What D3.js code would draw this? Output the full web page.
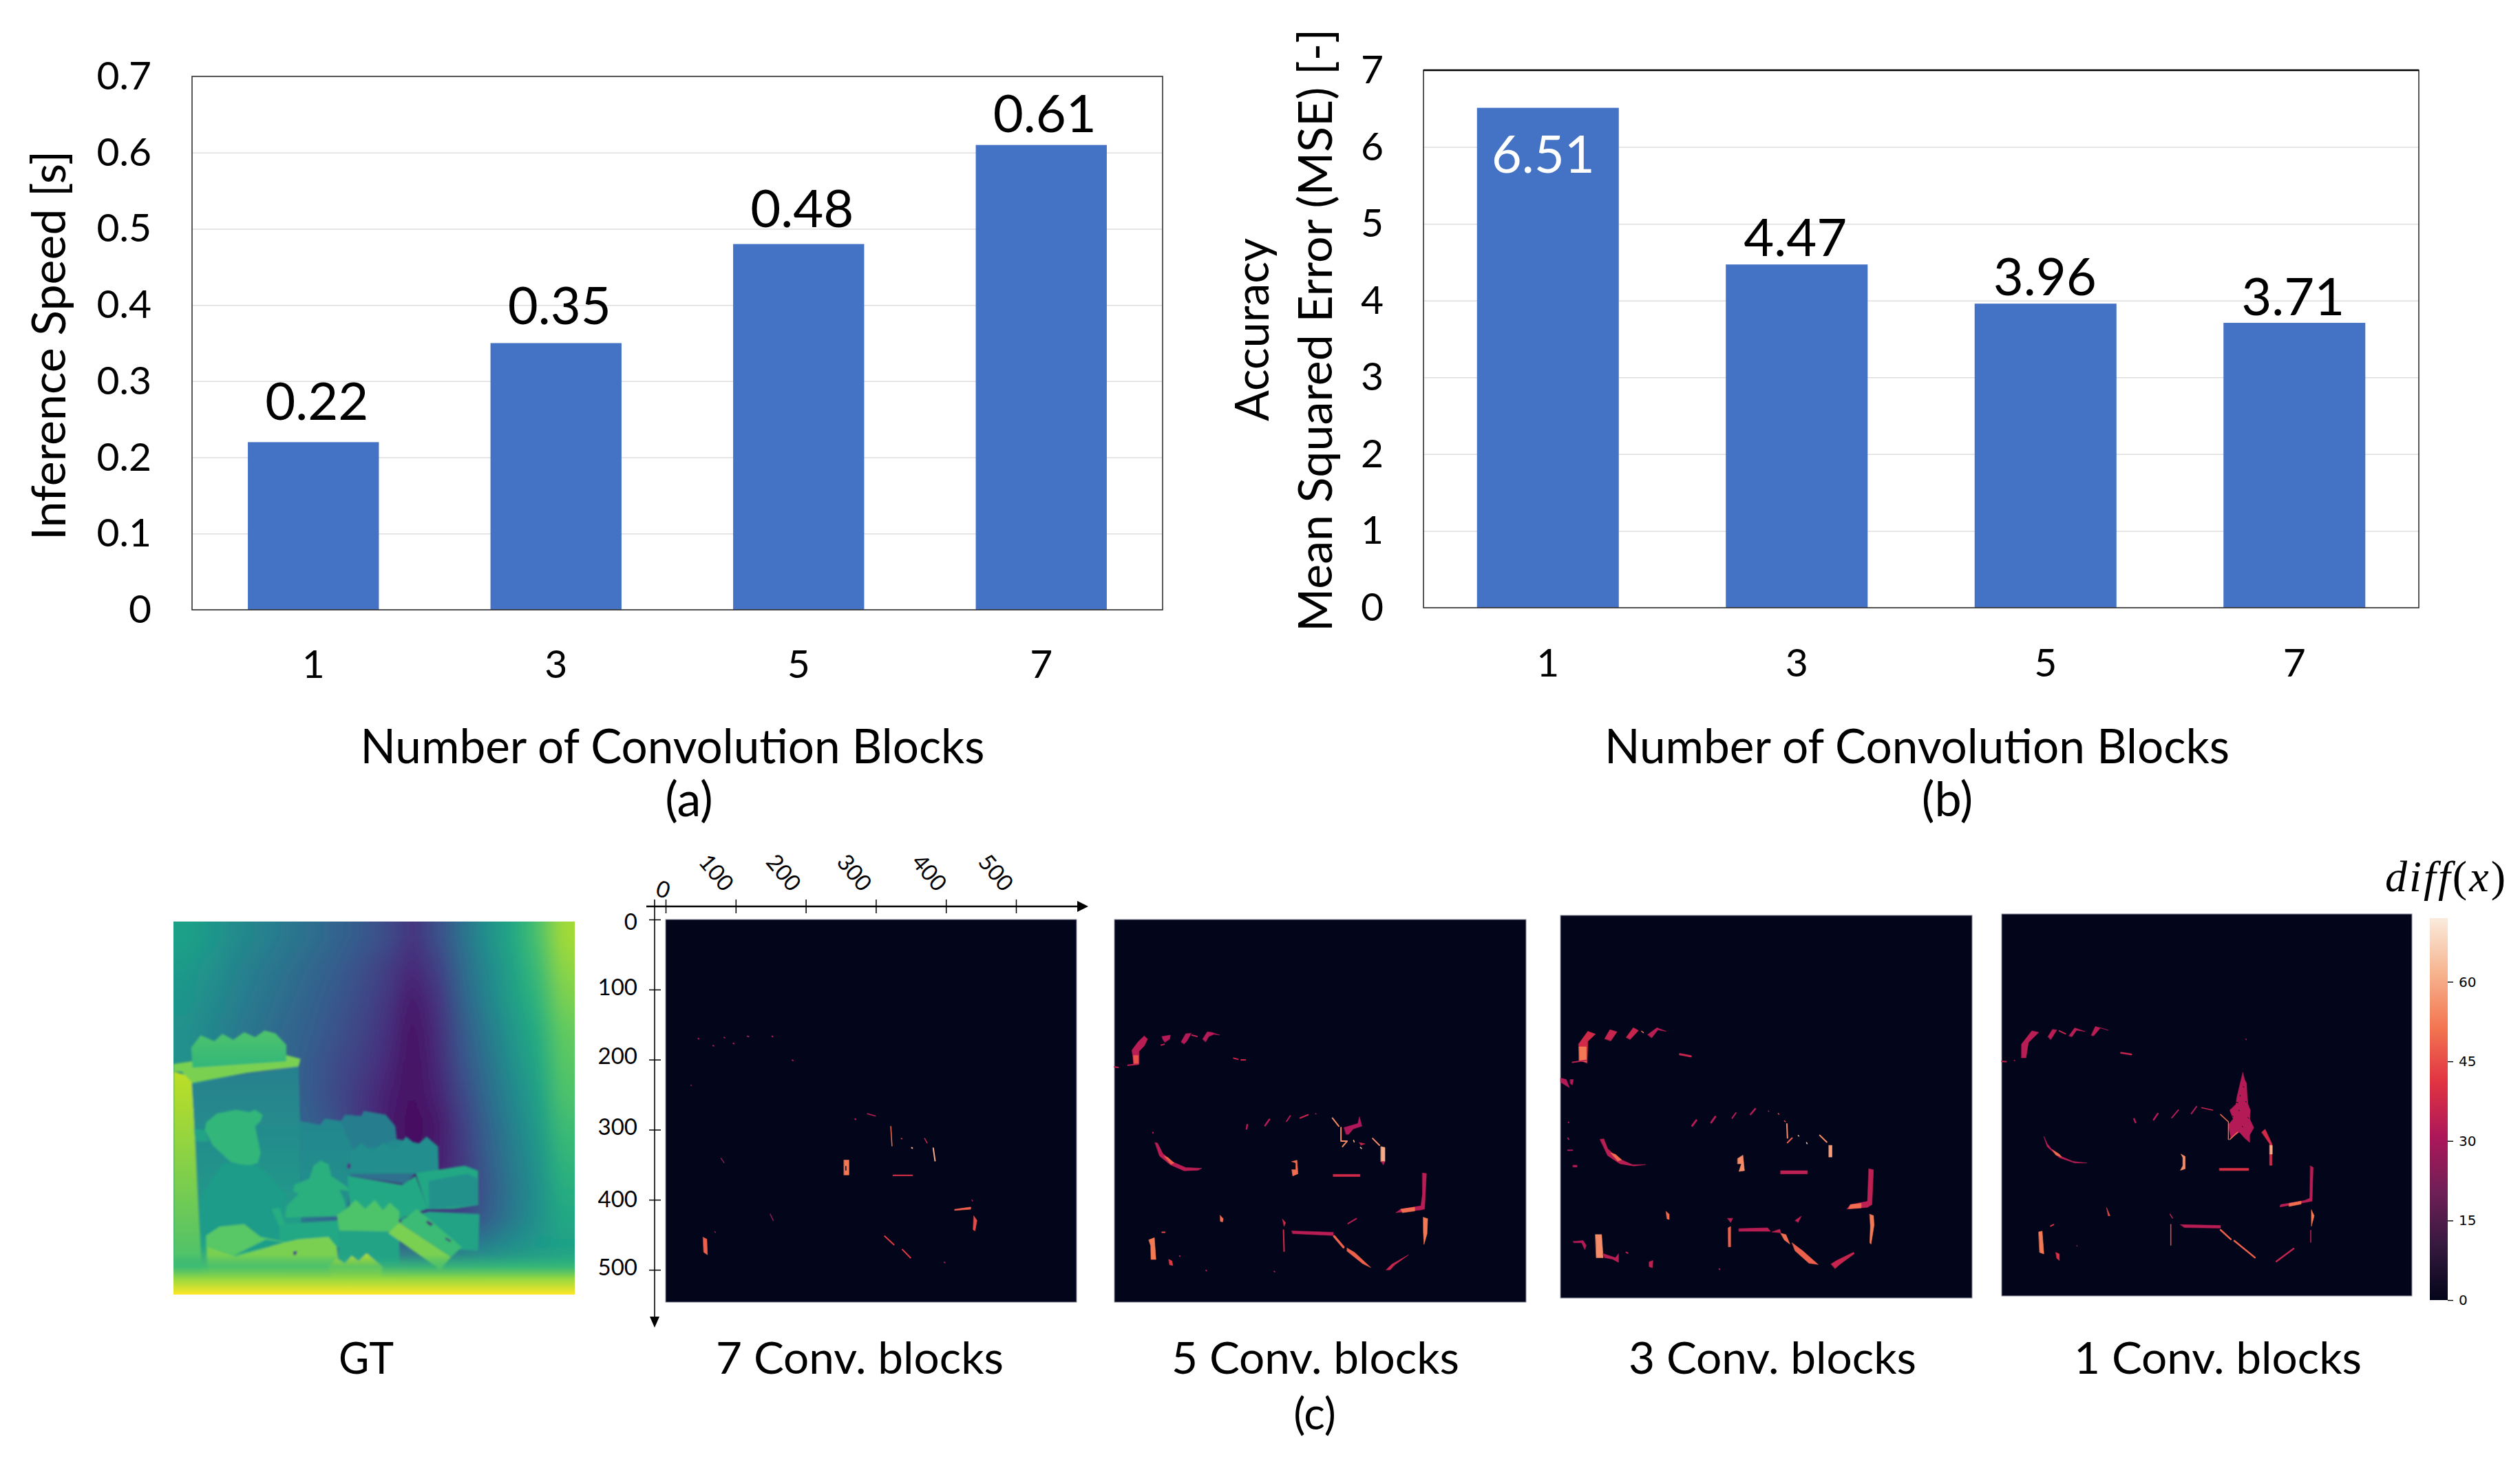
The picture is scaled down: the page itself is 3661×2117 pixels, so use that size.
<!DOCTYPE html>
<html><head><meta charset="utf-8">
<script src="https://cdnjs.cloudflare.com/ajax/libs/d3/7.8.5/d3.min.js"></script>
<style>html,body{margin:0;padding:0;background:#fff}svg{display:block}text{font-family:Lato,"Open Sans",sans-serif;fill:#000}</style>
</head><body><svg id="c" width="3661" height="2117" viewBox="0 0 3661 2117"></svg>
<script>
// ---------- bar chart data ----------
const blocks = ["1","3","5","7"];
const speedValues = [0.22,0.35,0.48,0.61];
const speedLabels = ["0.22","0.35","0.48","0.61"];
const speedTicks = [0,0.1,0.2,0.3,0.4,0.5,0.6,0.7];
const mseOrder = ["1","3","5","7"];
const mseValues = [6.51,4.47,3.96,3.71];
const mseLabels = ["6.51","4.47","3.96","3.71"];
const mseTicks = [0,1,2,3,4,5,6,7];

// ---------- depth map (viridis fraction) : coarse background, 16 x 12 samples ----------
const gtRows = [
[.57,.53,.48,.44,.40,.36,.32,.28,.23,.15,.24,.37,.50,.60,.71,.86],
[.54,.50,.45,.41,.37,.33,.29,.24,.18,.11,.19,.34,.47,.58,.68,.83],
[.52,.48,.43,.39,.35,.31,.27,.22,.16,.07,.15,.31,.45,.56,.65,.80],
[.50,.46,.41,.37,.33,.30,.25,.20,.14,.05,.13,.28,.41,.53,.62,.76],
[.50,.46,.41,.36,.33,.28,.23,.18,.12,.04,.12,.26,.38,.50,.60,.74],
[.48,.46,.41,.36,.32,.28,.22,.16,.09,.04,.10,.22,.35,.47,.57,.72],
[.48,.46,.41,.36,.33,.30,.24,.15,.08,.03,.07,.19,.32,.44,.55,.69],
[.46,.44,.42,.40,.38,.34,.27,.18,.09,.04,.08,.17,.30,.42,.52,.66],
[.48,.46,.44,.42,.40,.34,.28,.20,.10,.07,.10,.16,.28,.40,.50,.63],
[.52,.50,.48,.46,.42,.36,.30,.22,.14,.12,.14,.20,.30,.41,.50,.60],
[.60,.58,.56,.54,.50,.46,.42,.40,.38,.36,.38,.42,.46,.50,.54,.57],
[.80,.80,.80,.80,.80,.78,.76,.72,.70,.68,.68,.68,.68,.68,.68,.68]];
const gtExtentX = [30,1505], gtExtentY = [50,1517];
// objects of the depth map: [fraction or [top,bottom] fractions, outline]
const gtShapes = [
[[.90,.70],[30,640,97,660,135,1440,30,1440]],
[.80,[30,610,95,600,445,575,497,590,490,620,300,645,100,685,60,640,30,640]],
[[.72,.66],[95,545,130,497,180,520,210,492,250,515,290,485,330,505,365,478,405,490,445,535,445,600,100,625]],
[[.43,.56],[97,690,490,620,495,830,500,1290,135,1300]],
[[.46,.50],[495,835,570,850,585,825,650,835,660,810,720,815,730,795,810,810,845,855,850,905,1000,935,1005,1040,680,1045,670,1200,500,1100]],
[.42,[645,835,660,810,720,815,730,795,810,810,845,855,850,905,780,935,690,950]],
[.49,[680,960,720,920,760,955,800,920,845,950,885,895,925,930,960,895,1003,935,1005,1030,920,1040,680,1040]],
[.60,[670,1050,870,1085,920,1050,965,1180,860,1220,680,1200]],
[.36,[680,1042,920,1040,880,1082,680,1050]],
[.60,[920,1040,1100,1010,1150,1030,1150,1165,1060,1180,965,1182]],
[.50,[968,1070,1110,1042,1148,1060,1148,1165,1060,1172,970,1180]],
[.58,[970,1190,1155,1200,1150,1345,1080,1340,860,1220]],
[.66,[150,840,190,805,260,790,310,800,330,790,358,810,350,835,330,855,350,960,340,1000,300,1012,240,995,175,930,145,870]],
[.58,[105,865,145,870,160,915,110,915]],
[.55,[215,1000,340,1010,385,1050,445,1130,425,1200,420,1310,135,1290,125,1150,180,1050]],
[.60,[420,1240,640,1225,640,1330,420,1330]],
[.63,[545,1010,570,990,600,1005,610,1050,670,1095,675,1110,640,1105,660,1150,665,1195,630,1210,440,1215,445,1170,490,1120,470,1110,475,1085,530,1060]],
[.62,[390,1180,420,1175,440,1240,420,1250]],
[.58,[635,1260,860,1270,860,1400,640,1400]],
[.72,[630,1205,665,1180,700,1145,735,1180,770,1145,800,1185,825,1155,860,1190,860,1270,640,1265]],
[.68,[860,1235,925,1180,1090,1330,1050,1370]],
[.80,[820,1275,860,1235,1050,1370,1010,1420,985,1400]],
[.74,[150,1285,200,1250,290,1240,350,1290,440,1310,625,1320,640,1400,150,1440]],
[.56,[250,1365,370,1300,440,1312,370,1332]],
[.80,[260,1370,370,1335,430,1315,490,1300,600,1290,630,1330,640,1440,160,1440,155,1330]],
[.88,[600,1410,630,1375,660,1395,685,1365,710,1385,740,1355,800,1410,790,1450,620,1470]],
[.10,[962,1225,985,1240,975,1248,960,1235]],
[.15,[1030,1292,1052,1305,1045,1310,1030,1300]],
[.15,[670,1000,682,1005,680,1022,668,1020]],
[.15,[470,1348,485,1345,480,1362,470,1360]]
];
const gtFloorStops = [[0,.6,0],[.3,.68,.7],[.6,.84,1],[1,1,1]];
const gtFloorBand = [1360,1517];

// ---------- difference maps: [diff value, stroke width (0 = filled), outline] ----------
const diffDomain = [0,72];
const diffTicks = [0,15,30,45,60];
const rocketStops = ["#03051a","#35193e","#701f57","#ad1759","#e13342","#f37651","#f6b48f","#faebdd"];
const map7Extent = {x:[837,1505],y:[213,1239]};
const map7 = [
[30,2,[890,532,891,533]],[30,2,[932,529,933,530]],[30,2,[947,545,948,546]],[30,2,[970,526,972,527]],[30,2,[1010,526,1011,527]],[30,2,[914,551,915,552]],[30,2,[1043,590,1044,591]],[28,1.5,[878,657,879,658]],
[34,2,[1145,748,1146,749]],[34,1.5,[1165,734,1178,740]],[50,1.5,[1203,768,1205,820]],[60,2,[1237,825,1238,826]],[45,1.5,[1220,800,1221,801]],[36,1.5,[1258,800,1262,812]],
[60,2,[1272,826,1275,860]],[52,0,[1127,858,1135,858,1135,898,1127,898]],[0,1.5,[1130,875,1130,885]],[40,2,[1207,899,1238,899]],[48,0,[1307,990,1333,984,1333,990,1307,993]],[32,1.5,[1335,965,1336,968]],
[45,0,[1338,1008,1343,1020,1340,1048,1337,1045]],[25,1.5,[927,853,932,865]],[25,1.5,[1007,1003,1012,1020]],[48,0,[898,1065,904,1070,905,1112,899,1105]],[25,1.5,[917,1050,918,1052]],
[42,2,[1193,1062,1208,1085]],[42,2,[1222,1098,1235,1120]],[30,2,[1290,1132,1291,1133]]];
const map5Extent = {x:[88,1427],y:[90,1497]};
const map5 = [
[33,0,[145,570,165,540,185,518,196,530,185,555,168,575,168,622,150,622,148,595]],[46,0,[150,590,166,590,166,620,152,620]],
[32,0,[243,520,270,515,268,530,252,542,245,530]],[32,0,[305,540,320,510,338,508,325,535,315,548]],[32,0,[375,530,390,503,405,505,430,515,412,512,395,520,385,540]],
[34,2,[88,632,100,634]],[34,2,[132,626,165,622]],[36,2,[476,600,490,604]],[36,2,[500,606,514,606]],[34,2,[340,515,357,520]],[34,2,[240,552,250,549]],
[32,2.5,[520,845,518,860]],[32,2.5,[592,825,578,848]],[32,2,[660,812,648,832]],[36,2,[692,820,718,808]],[32,1.5,[742,804,744,805]],
[33,0,[220,910,228,912,245,950,275,980,320,1002,372,1005,360,1012,315,1014,270,992,235,960]],[48,0,[250,960,262,965,282,985,272,990]],
[31,0,[835,855,880,840,885,815,893,850,865,860,850,880,842,880]],[55,2,[797,820,818,850]],[55,2,[825,855,825,905,845,905,830,925]],[36,0,[885,910,903,915,890,920]],[62,1.5,[866,902,868,908]],[65,1.5,[888,928,892,932]],
[55,2,[928,895,950,920]],[60,0,[955,925,968,928,968,980,955,980]],[32,0,[956,980,968,980,963,992]],
[50,0,[665,980,682,975,685,1025,668,1033,665,1010,678,1010,678,985]],[38,0,[800,1027,887,1027,887,1035,800,1035]],
[33,0,[1090,1022,1103,1024,1097,1155,1085,1158,1003,1168,1020,1155,1085,1143,1090,1100]],[50,0,[1020,1155,1065,1148,1065,1162,1025,1168]],
[52,0,[1093,1185,1107,1190,1105,1245,1095,1285,1093,1240]],[50,0,[432,1178,442,1190,440,1202,433,1200]],
[38,0,[635,1192,645,1205,640,1218]],[38,2,[638,1232,640,1310]],[33,0,[665,1235,800,1240,800,1252,668,1245]],[48,3.5,[803,1255,833,1295]],
[48,0,[845,1298,870,1315,922,1370,895,1355,845,1310]],[36,0,[972,1378,990,1358,1045,1323,1000,1360,985,1378]],[33,2,[848,1208,875,1190]],
[52,0,[200,1268,218,1260,223,1340,207,1340,206,1290]],[42,0,[265,1340,275,1345,278,1362,268,1360]],[45,2,[243,1240,252,1240]],[32,2,[386,1380,387,1381]],[32,2,[608,1384,609,1385]],[32,2,[300,1327,301,1328]],[32,2,[213,873,214,875]]];
const map3Extent = {x:[61,1401],y:[77,1483]};
const map3 = [
[38,0,[120,550,150,503,175,513,150,540,148,620,125,610]],[52,0,[122,560,145,560,145,615,122,612]],[34,2,[100,617,145,610]],
[36,0,[205,530,222,497,245,505,225,538]],[36,0,[275,525,298,490,315,500,288,533]],[33,0,[345,515,375,490,405,503,378,498,358,527]],[36,3,[450,587,485,595]],[50,1.5,[325,503,331,508]],
[32,0,[62,675,80,680,90,710,75,700,62,690]],[32,0,[93,680,103,680,100,700,93,695]],[30,2,[85,895,88,900]],[30,2,[85,940,100,940]],[32,0,[102,995,115,995,115,1002,102,1002]],[30,2,[87,837,88,838]],
[32,3,[490,850,503,830]],[32,3,[552,838,565,817]],[32,2,[620,822,632,803]],[32,2.5,[680,808,695,788]],[36,1.5,[738,796,739,797]],[45,1.5,[770,805,772,808]],[45,1.5,[790,832,793,835]],
[33,0,[190,900,202,898,215,935,250,970,295,993,338,993,300,998,255,990,215,960]],[50,0,[225,950,240,955,260,975,248,980]],
[55,2,[798,843,800,895]],[48,2,[800,912,815,895]],[65,1.5,[835,886,837,888]],[68,1.5,[862,912,864,916]],[55,2,[905,885,928,910]],
[58,0,[935,922,945,922,945,965,935,965]],[55,0,[638,970,655,958,660,1015,642,1018,650,990,638,990]],[34,0,[778,1015,865,1015,865,1027,778,1027]],
[34,0,[1065,1008,1080,1012,1075,1140,1060,1150,993,1156,1005,1140,1060,1128]],[50,0,[1005,1140,1040,1135,1040,1152,1000,1155]],
[52,0,[1068,1175,1080,1180,1082,1215,1072,1285,1068,1280,1070,1220]],[50,0,[405,1165,415,1175,415,1195,408,1192]],[34,0,[605,1190,622,1190,615,1205]],[34,0,[825,1198,845,1182,835,1205]],
[48,0,[607,1225,615,1220,615,1295,608,1295]],[33,0,[642,1228,735,1225,745,1238,642,1238]],[35,0,[750,1240,775,1230,778,1243]],[50,0,[778,1245,795,1250,808,1285,790,1270]],
[48,0,[815,1280,850,1310,900,1360,870,1355,825,1310]],[36,0,[942,1358,960,1345,1015,1315,1018,1320,970,1360,955,1375]],
[55,0,[175,1250,195,1250,200,1335,178,1335]],[33,0,[200,1320,240,1335,250,1320,250,1352,230,1340,205,1335]],[32,0,[102,1275,135,1272,145,1290,140,1305,130,1280,105,1280]],
[34,0,[350,1350,362,1345,360,1372,350,1368]],[34,2,[275,1315,280,1318]],[32,2,[578,1376,579,1378]]];
const map1Extent = {x:[57,1253],y:[182,1483]};
const map1 = [
[33,0,[115,625,145,580,165,585,135,620,128,672,115,672]],[33,0,[192,600,205,575,218,577,200,610]],[36,2,[225,580,243,590]],[33,0,[253,597,270,570,300,582,275,578,262,600]],[33,0,[318,595,330,565,368,578,345,570,325,597]],
[36,2.5,[405,655,435,660]],[34,2,[57,684,70,685]],[33,1.5,[94,681,95,682]],[32,2.5,[443,880,447,892]],[32,2.5,[500,883,512,862]],[32,2,[553,876,572,850]],[32,2,[610,862,625,838]],[36,1.5,[640,842,672,850]],
[32,0,[760,722,765,745,771,760,772,790,775,830,782,850,780,880,792,910,780,935,780,960,765,945,750,925,725,945,718,900,732,880,722,850,740,830,742,810,748,780]],[32,1.5,[769,608,770,610]],
[0,1,[752,800,752,802]],[0,1,[738,822,746,825]],[0,1,[768,820,770,823]],[0,1,[748,850,750,852]],[0,1,[730,870,732,872]],[0,1,[775,875,776,877]],[0,1,[762,770,763,772]],[0,1,[758,905,760,907]],[0,1,[745,780,743,790]],
[50,1.5,[695,865,718,890,718,950]],[50,1.5,[722,950,745,925]],[38,0,[815,925,825,915,845,965,845,1038,838,1038,838,965]],[60,0,[839,970,846,970,846,1000,839,1000]],
[55,0,[580,1000,592,1008,592,1050,578,1055,585,1040,585,1012]],[40,0,[692,1048,777,1048,777,1056,692,1056]],
[33,0,[957,1040,965,1045,962,1160,940,1165,868,1180,870,1172,940,1158,955,1150]],[50,0,[895,1168,930,1160,930,1170,895,1178]],
[52,0,[960,1190,968,1210,960,1245]],[35,1.5,[958,1260,958,1300]],[45,0,[363,1183,373,1210,368,1210]],[35,1.5,[548,1205,555,1218]],[45,1.5,[550,1240,550,1310]],
[33,0,[578,1240,695,1243,695,1252,590,1250]],[48,2.5,[695,1258,725,1290]],[48,2.5,[735,1295,795,1352]],[35,2.5,[858,1365,908,1322]],
[52,0,[165,1265,175,1262,180,1340,168,1335]],[40,0,[215,1335,225,1340,225,1362,218,1355]],[40,2,[200,1245,208,1240]],[32,1.5,[276,1312,277,1313]],
[33,0,[180,940,190,965,215,1000,265,1025,305,1030,270,1030,225,1012,190,975]],[50,0,[205,985,225,1000,232,1010,215,1003]]];
const axisTicks = [0,100,200,300,400,500];
const panelTitles = ["GT","7 Conv. blocks","5 Conv. blocks","3 Conv. blocks","1 Conv. blocks"];

// ---------- drawing ----------
const svg = d3.select("#c");
const defs = svg.append("defs");
function label(t,x,y,size,opt={}){
  const e = svg.append("text").attr("x",x).attr("y",y).attr("font-size",size)
    .attr("text-anchor",opt.anchor||"middle").text(t);
  if(opt.len) e.attr("textLength",opt.len).attr("lengthAdjust","spacingAndGlyphs");
  if(opt.rot!=null) e.attr("transform",`rotate(${opt.rot} ${x} ${y})`);
  if(opt.fill) e.style("fill",opt.fill);
  if(opt.family) e.style("font-family",opt.family);
  return e;
}
function barChart(cfg){
  const x = d3.scaleBand().domain(cfg.cats).range([cfg.l,cfg.r]).paddingInner(cfg.gap).paddingOuter(cfg.gap/2);
  const y = d3.scaleLinear().domain(cfg.dom).range([cfg.b,cfg.t]);
  const g = svg.append("g");
  const grid = g.append("g").attr("transform",`translate(${cfg.l},0)`)
    .call(d3.axisLeft(y).tickValues(cfg.ticks).tickSize(-(cfg.r-cfg.l)).tickFormat(""));
  grid.select(".domain").remove();
  grid.selectAll("line").attr("stroke","#dedede").attr("stroke-width",1.5);
  g.selectAll("rect.bar").data(cfg.vals).join("rect").attr("class","bar")
    .attr("x",(d,i)=>x(cfg.cats[i])).attr("width",x.bandwidth())
    .attr("y",d=>y(d)).attr("height",d=>cfg.b-y(d)).attr("fill","#4472c4");
  g.append("rect").attr("x",cfg.l).attr("y",cfg.t).attr("width",cfg.r-cfg.l).attr("height",cfg.b-cfg.t)
    .attr("fill","none").attr("stroke","#303030").attr("stroke-width",1.6);
  cfg.ticks.forEach(t=>label(cfg.fmt(t),cfg.tickX,y(t)+19,57,{anchor:"end"}));
  cfg.cats.forEach(c=>label(c,x(c)+x.bandwidth()/2,cfg.catY,57));
  cfg.vals.forEach((v,i)=>label(cfg.labels[i],x(cfg.cats[i])+x.bandwidth()/2+cfg.labelDx[i],y(v)-cfg.lift[i],76,{fill:cfg.labelFill[i]}));
  label("Number of Convolution Blocks",cfg.xt,1109,70,{len:cfg.xtLen});
  label(cfg.letter,cfg.letterX,1186,70);
}
barChart({cats:blocks,vals:speedValues,labels:speedLabels,ticks:speedTicks,dom:[0,.7],l:279,r:1689,t:111,b:886,gap:.46,
  fmt:t=>t===0?"0":d3.format(".1f")(t),tickX:220,catY:985,lift:[32,28,25,19],labelDx:[5,5,5,5],labelFill:["#000","#000","#000","#000"],xt:977,xtLen:907,letter:"(a)",letterX:1001});
barChart({cats:mseOrder,vals:mseValues,labels:mseLabels,ticks:mseTicks,dom:[0,7],l:2068,r:3514,t:102,b:883,gap:.43,
  fmt:d3.format("d"),tickX:2010,catY:983,lift:[-94,12,12,11],labelDx:[-7,-2,-1,-2],labelFill:["#fff","#000","#000","#000"],xt:2785,xtLen:908,letter:"(b)",letterX:2829});
label("Inference Speed [s]",95,502,68,{rot:-90,len:566});
label("Accuracy",1843,479,68,{rot:-90,len:266});
label("Mean Squared Error (MSE) [-]",1935,480,68,{rot:-90,len:876});
svg.append("line").attr("x1",2068).attr("x2",3514).attr("y1",102).attr("y2",102).attr("stroke","#000").attr("stroke-width",2.5);

// depth map
const gt = {x:[252,835],y:[1339,1881]};
const gx = d3.scaleLinear().domain(gtExtentX).range(gt.x), gy = d3.scaleLinear().domain(gtExtentY).range(gt.y);
const viridisAt = d3.scaleSequential(d3.interpolateViridis).domain([0,1]);
// the samples get one repeated row and column on each side, so that smoothing never reaches the picture's edge
const nc=gtRows[0].length, nr=gtRows.length;
const cv = document.createElement("canvas"); cv.width=nc+2; cv.height=nr+2;
const cx = cv.getContext("2d");
for(let j=-1;j<=nr;j++) for(let i=-1;i<=nc;i++){
  cx.fillStyle=viridisAt(gtRows[Math.max(0,Math.min(nr-1,j))][Math.max(0,Math.min(nc-1,i))]);
  cx.fillRect(i+1,j+1,1,1);
}
const cellW=(gt.x[1]-gt.x[0])/nc, cellH=(gt.y[1]-gt.y[0])/nr;
defs.append("clipPath").attr("id","gtclip").append("rect").attr("x",gt.x[0]).attr("y",gt.y[0]).attr("width",gt.x[1]-gt.x[0]).attr("height",gt.y[1]-gt.y[0]);
const soft = defs.append("filter").attr("id","soft").attr("x",-.02).attr("y",-.02).attr("width",1.04).attr("height",1.04);
soft.append("feGaussianBlur").attr("stdDeviation",1.8);
const softer = defs.append("filter").attr("id","softer").attr("x",0).attr("y",0).attr("width",1).attr("height",1);
softer.append("feGaussianBlur").attr("stdDeviation",9);
const gg = svg.append("g").attr("clip-path","url(#gtclip)");
gg.append("image").attr("href",cv.toDataURL()).attr("x",gt.x[0]-cellW).attr("y",gt.y[0]-cellH).attr("width",gt.x[1]-gt.x[0]+2*cellW).attr("height",gt.y[1]-gt.y[0]+2*cellH)
  .attr("preserveAspectRatio","none").attr("filter","url(#softer)");
const shapeG = gg.append("g").attr("filter","url(#soft)");
const pathOf = (sx,sy)=>d3.line().x(d=>sx(d[0])).y(d=>sy(d[1]));
const pairs = a=>d3.range(0,a.length,2).map(i=>[a[i],a[i+1]]);
gtShapes.forEach((s,i)=>{
  let fill;
  if(Array.isArray(s[0])){
    const id="gs"+i, lg=defs.append("linearGradient").attr("id",id).attr("x1",0).attr("x2",0).attr("y1",0).attr("y2",1);
    s[0].forEach((t,k)=>lg.append("stop").attr("offset",k).attr("stop-color",viridisAt(t)));
    fill=`url(#${id})`;
  } else fill=viridisAt(s[0]);
  shapeG.append("path").attr("d",pathOf(gx,gy)(pairs(s[1]))+"Z").attr("fill",fill);
});
const fl = defs.append("linearGradient").attr("id","floor").attr("x1",0).attr("x2",0).attr("y1",0).attr("y2",1);
gtFloorStops.forEach(s=>fl.append("stop").attr("offset",s[0]).attr("stop-color",viridisAt(s[1])).attr("stop-opacity",s[2]));
gg.append("rect").attr("x",gt.x[0]).attr("width",gt.x[1]-gt.x[0]).attr("y",gy(gtFloorBand[0])).attr("height",gy(gtFloorBand[1])-gy(gtFloorBand[0])).attr("fill","url(#floor)");

// difference maps
const rocket = d3.scaleLinear().domain(rocketStops.map((c,i)=>diffDomain[1]*i/(rocketStops.length-1))).range(rocketStops).clamp(true);
function diffMap(box,ext,blobs){
  const sx=d3.scaleLinear().domain(ext.x).range(box.x), sy=d3.scaleLinear().domain(ext.y).range(box.y);
  const g=svg.append("g");
  g.append("rect").attr("x",box.x[0]).attr("y",box.y[0]).attr("width",box.x[1]-box.x[0]).attr("height",box.y[1]-box.y[0])
    .attr("fill",rocketStops[0]).attr("stroke","#8f90a0").attr("stroke-width",1);
  const line=pathOf(sx,sy);
  g.selectAll("path").data(blobs).join("path")
    .attr("d",d=>line(pairs(d[2]))+(d[1]===0?"Z":""))
    .attr("fill",d=>d[1]===0?rocket(d[0]):"none")
    .attr("stroke",d=>rocket(d[0]))
    .attr("stroke-width",d=>d[1]===0?.6:d[1])
    .attr("stroke-linecap","round").attr("stroke-linejoin","round");
}
const box7={x:[967,1564],y:[1336,1892]}, box5={x:[1619,2217],y:[1336,1892]}, box3={x:[2267,2865],y:[1330,1886]}, box1={x:[2908,3504],y:[1328,1883]};
diffMap(box7,map7Extent,map7); diffMap(box5,map5Extent,map5); diffMap(box3,map3Extent,map3); diffMap(box1,map1Extent,map1);

// pixel axes of the first map
const px=d3.scaleLinear().domain([0,500]).range([967,1476]), py=d3.scaleLinear().domain([0,500]).range([1336,1845]);
const ax=svg.append("g").attr("stroke","#000").attr("fill","#000");
ax.append("line").attr("x1",939).attr("x2",1568).attr("y1",1317).attr("y2",1317).attr("stroke-width",2.5);
ax.append("path").attr("d",d3.line()([[1565,1309],[1581,1317],[1565,1325]])+"Z").attr("stroke","none");
ax.append("line").attr("x1",951).attr("x2",951).attr("y1",1307).attr("y2",1915).attr("stroke-width",1.6);
ax.append("path").attr("d",d3.line()([[944,1913],[951,1929],[958,1913]])+"Z").attr("stroke","none");
const topAxis=svg.append("g").attr("transform","translate(0,1327)").call(d3.axisTop(px).tickValues(axisTicks).tickSize(20).tickFormat(""));
topAxis.select(".domain").remove(); topAxis.selectAll("line").attr("stroke","#000").attr("stroke-width",1.5);
const leftAxis=svg.append("g").attr("transform","translate(960,0)").call(d3.axisLeft(py).tickValues(axisTicks).tickSize(17).tickFormat(""));
leftAxis.select(".domain").remove(); leftAxis.selectAll("line").attr("stroke","#000").attr("stroke-width",1.5);
const leftLabelNudge=[4,-3,-5,-3,0,-3], topLabelNudge=[-3,-27,-31,-30,-23,-28];
axisTicks.forEach((t,i)=>{
  label(String(t),926,py(t)+11+leftLabelNudge[i],33,{anchor:"end"});
  label(String(t),px(t)+topLabelNudge[i],t?1267:1291,33,{rot:t?50:18}).attr("dominant-baseline","central");
});

// titles of the maps
const titleCenters=[532,1249,1911,2575,3222];
panelTitles.forEach((t,i)=>label(t,titleCenters[i],1996,64,i?{len:418}:{len:80}));
label("(c)",1910,2077,64);

// colour bar
const cb={x:3530,w:26,t:1334,b:1889};
const cy=d3.scaleLinear().domain(diffDomain).range([cb.b,cb.t]);
const cg=defs.append("linearGradient").attr("id","cbar").attr("x1",0).attr("x2",0).attr("y1",1).attr("y2",0);
rocketStops.forEach((c,i)=>cg.append("stop").attr("offset",i/(rocketStops.length-1)).attr("stop-color",c));
svg.append("rect").attr("x",cb.x).attr("y",cb.t).attr("width",cb.w).attr("height",cb.b-cb.t).attr("fill","url(#cbar)");
const cAxis=svg.append("g").attr("transform",`translate(${cb.x+cb.w},0)`).call(d3.axisRight(cy).tickValues(diffTicks).tickSize(8).tickFormat(""));
cAxis.select(".domain").remove(); cAxis.selectAll("line").attr("stroke","#000").attr("stroke-width",1.4);
diffTicks.forEach(t=>label(String(t),3572,cy(t)+7,20,{anchor:"start",family:"'DejaVu Sans'"}));
const dl=svg.append("text").attr("x",3465).attr("y",1295).attr("font-size",64).attr("textLength",175).attr("lengthAdjust","spacing").style("font-family","'Liberation Serif'");
dl.append("tspan").attr("font-style","italic").text("diff");
dl.append("tspan").text("(");
dl.append("tspan").attr("font-style","italic").text("x");
dl.append("tspan").text(")");
</script></body></html>
